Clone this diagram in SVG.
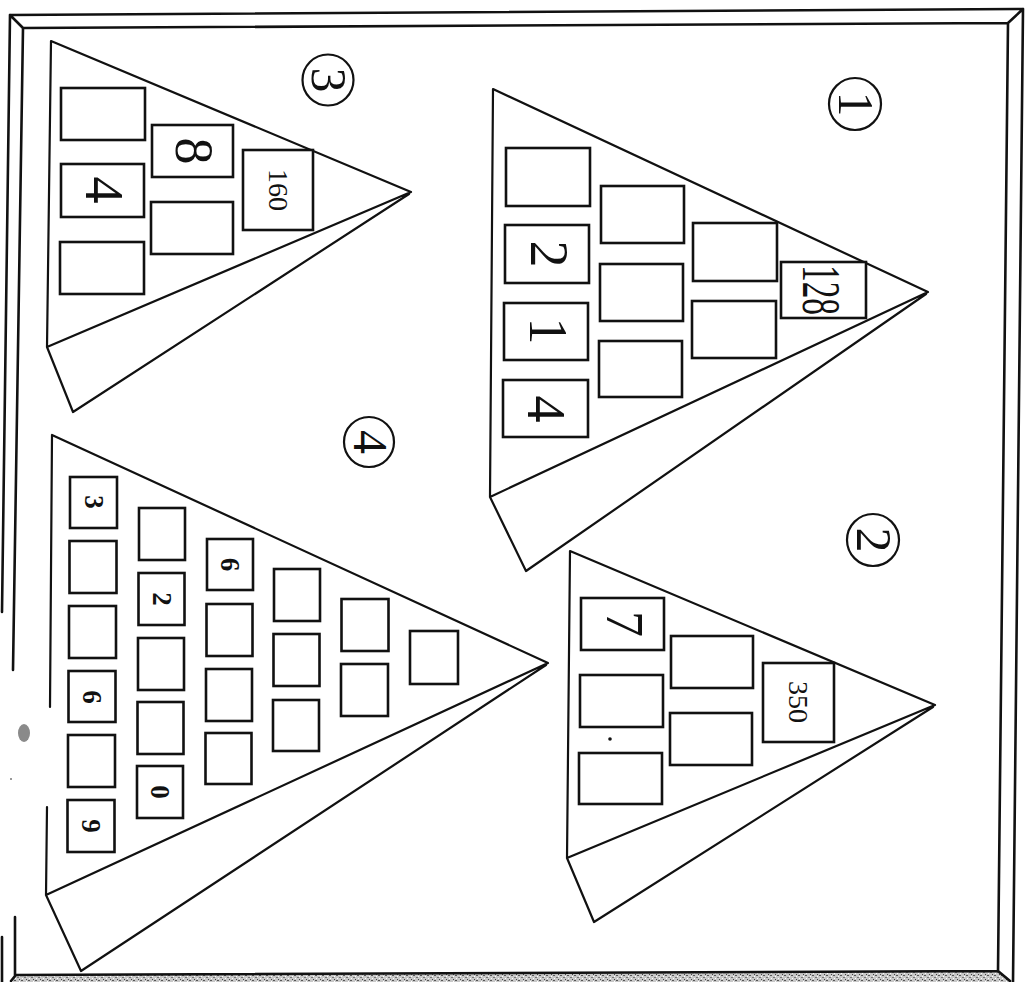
<svg xmlns="http://www.w3.org/2000/svg" width="1027" height="982" viewBox="0 0 1027 982">
<style>
.frame{fill:none;stroke:#111;stroke-width:2.6;stroke-linecap:round}
.tri{fill:none;stroke:#111;stroke-width:2.2;stroke-linejoin:round;stroke-linecap:round}
.box{fill:#fff;stroke:#111;stroke-width:2.6}
.circ{fill:none;stroke:#111;stroke-width:2.2}
.num{font-family:"Liberation Serif","Times New Roman",serif;fill:#111;text-anchor:middle;dominant-baseline:central}
.sm{font-size:27px;font-weight:bold}
</style>
<defs>
<pattern id="grain" width="7" height="5" patternUnits="userSpaceOnUse">
<rect width="7" height="5" fill="#c8c8c8"/>
<rect x="0" y="0" width="2" height="1" fill="#555"/>
<rect x="3" y="2" width="2" height="1" fill="#777"/>
<rect x="5" y="4" width="1" height="1" fill="#444"/>
<rect x="1" y="3" width="1" height="1" fill="#fff"/>
<rect x="5" y="1" width="1" height="1" fill="#fff"/>
</pattern>
</defs>
<rect width="1027" height="982" fill="#fff"/>

<g id="frame">
<polygon points="15,975 998,971 1011,982 12,982" fill="url(#grain)"/>
<path class="frame" d="M10,15 L1023,9 M23,28 L1008,23 M10,15 L23,28 M1023,9 L1008,23 M1023,9 L1013,982 M1008,23 L998,971 M998,971 L1010,981 M15,975 L998,971 M10,15 L2,612 M23,28 L13,670 M15,917 L15,976 L11,981 M2,937 L2,982"/>
<ellipse cx="24" cy="733" rx="6" ry="9" fill="#8a8a8a"/>
<circle cx="11" cy="779" r="1" fill="#777"/>
</g>

<g id="connectors"/>

<g id="pyramid-1">
<path class="tri" d="M493,89 L928,292 L490,497 Z M490,497 L526,571 L926,294"/>
<circle class="circ" cx="855" cy="104" r="26"/>
<text class="num" transform="translate(856,104) rotate(90)" font-size="50">1</text>
<g id="p1-b1"><rect class="box" x="506" y="148" width="84" height="58"/></g>
<g id="p1-b2"><rect class="box" x="505" y="225" width="84" height="58"/><text class="num" transform="translate(549,254) rotate(90)" font-size="54">2</text></g>
<g id="p1-b3"><rect class="box" x="504" y="303" width="84" height="57"/><text class="num" transform="translate(548,331) rotate(90)" font-size="54">1</text></g>
<g id="p1-b4"><rect class="box" x="503" y="380" width="85" height="57"/><text class="num" transform="translate(546,409) rotate(90)" font-size="54">4</text></g>
<g id="p1-b5"><rect class="box" x="601" y="186" width="83" height="57"/></g>
<g id="p1-b6"><rect class="box" x="600" y="264" width="83" height="57"/></g>
<g id="p1-b7"><rect class="box" x="599" y="341" width="83" height="56"/></g>
<g id="p1-b8"><rect class="box" x="693" y="223" width="84" height="58"/></g>
<g id="p1-b9"><rect class="box" x="692" y="301" width="84" height="57"/></g>
<g id="p1-b10"><rect class="box" x="781" y="262" width="85" height="56"/><text class="num" transform="translate(821,290) rotate(90)" font-size="54" textLength="50" lengthAdjust="spacingAndGlyphs">128</text></g>
</g>

<g id="pyramid-2">
<path class="tri" d="M570,551 L935,705 L567,858 Z M567,858 L594,922 L933,707"/>
<circle class="circ" cx="873" cy="540" r="26"/>
<text class="num" transform="translate(874,540) rotate(90)" font-size="50">2</text>
<g id="p2-b1"><rect class="box" x="581" y="598" width="83" height="52"/><text class="num" transform="translate(624,624) rotate(90)" font-size="52">7</text></g>
<g id="p2-b2"><rect class="box" x="580" y="675" width="83" height="52"/></g>
<g id="p2-b3"><rect class="box" x="579" y="753" width="83" height="51"/></g>
<g id="p2-b4"><rect class="box" x="671" y="636" width="82" height="52"/></g>
<g id="p2-b5"><rect class="box" x="670" y="713" width="82" height="52"/></g>
<g id="p2-b6"><rect class="box" x="763" y="663" width="71" height="79"/><text class="num" transform="translate(798,702) rotate(90)" font-size="28">350</text></g>
<circle cx="610" cy="739" r="1.8" fill="#111"/>
</g>

<g id="pyramid-3">
<path class="tri" d="M51,41 L411,192 L47,347 Z M47,347 L73,412 L409,194"/>
<circle class="circ" cx="328" cy="80" r="25.5"/>
<text class="num" transform="translate(329,80) rotate(90)" font-size="50">3</text>
<g id="p3-b1"><rect class="box" x="61" y="88" width="84" height="52"/></g>
<g id="p3-b2"><rect class="box" x="61" y="164" width="83" height="53"/><text class="num" transform="translate(104,190) rotate(90)" font-size="54">4</text></g>
<g id="p3-b3"><rect class="box" x="60" y="242" width="84" height="52"/></g>
<g id="p3-b4"><rect class="box" x="152" y="125" width="81" height="52"/><text class="num" transform="translate(194,151) rotate(90)" font-size="54">8</text></g>
<g id="p3-b5"><rect class="box" x="151" y="202" width="82" height="52"/></g>
<g id="p3-b6"><rect class="box" x="243" y="150" width="70" height="80"/><text class="num" transform="translate(278,190) rotate(90)" font-size="28">160</text></g>
</g>

<g id="pyramid-4">
<path class="tri" d="M52,435 L548,663 L46,895 M52,435 L50,707 M47,807 L46,895 M46,895 L81,971 L546,665"/>
<circle class="circ" cx="369" cy="442" r="25"/>
<text class="num" transform="translate(370,442) rotate(90)" font-size="48">4</text>
<g id="p4-b1"><rect class="box" x="70" y="477" width="47" height="51"/><text class="num sm" transform="translate(93.5,502) rotate(90)">3</text></g>
<g id="p4-b2"><rect class="box" x="69.5" y="541" width="47" height="52"/></g>
<g id="p4-b3"><rect class="box" x="69" y="606" width="47" height="52"/></g>
<g id="p4-b4"><rect class="box" x="68.5" y="671" width="47" height="51"/><text class="num sm" transform="translate(92,697) rotate(90)">6</text></g>
<g id="p4-b5"><rect class="box" x="68" y="735" width="47" height="52"/></g>
<g id="p4-b6"><rect class="box" x="67.5" y="800" width="47" height="52"/><text class="num sm" transform="translate(91,826) rotate(90)">9</text></g>
<g id="p4-b7"><rect class="box" x="139" y="508" width="46" height="52"/></g>
<g id="p4-b8"><rect class="box" x="138.5" y="573" width="46" height="52"/><text class="num sm" transform="translate(161.5,599) rotate(90)">2</text></g>
<g id="p4-b9"><rect class="box" x="138" y="638" width="46" height="52"/></g>
<g id="p4-b10"><rect class="box" x="137.5" y="702" width="46" height="52"/></g>
<g id="p4-b11"><rect class="box" x="137" y="766" width="46" height="52"/><text class="num sm" transform="translate(160,792) rotate(90)">0</text></g>
<g id="p4-b12"><rect class="box" x="207" y="539" width="46" height="51"/><text class="num sm" transform="translate(230,564.5) rotate(90)">6</text></g>
<g id="p4-b13"><rect class="box" x="206.5" y="604" width="46" height="52"/></g>
<g id="p4-b14"><rect class="box" x="206" y="669" width="46" height="52"/></g>
<g id="p4-b15"><rect class="box" x="205.5" y="733" width="46" height="51"/></g>
<g id="p4-b16"><rect class="box" x="274" y="569" width="46" height="52"/></g>
<g id="p4-b17"><rect class="box" x="273.5" y="634" width="46" height="52"/></g>
<g id="p4-b18"><rect class="box" x="273" y="700" width="46" height="51"/></g>
<g id="p4-b19"><rect class="box" x="341.5" y="599" width="47" height="52"/></g>
<g id="p4-b20"><rect class="box" x="341" y="664" width="47" height="52"/></g>
<g id="p4-b21"><rect class="box" x="410" y="631" width="48" height="53"/></g>
</g>
</svg>
